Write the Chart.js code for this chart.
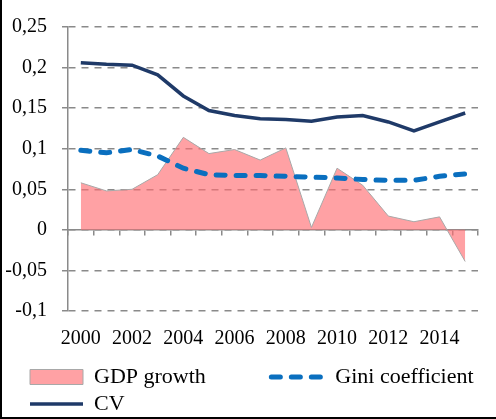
<!DOCTYPE html>
<html>
<head>
<meta charset="utf-8">
<script src="https://cdn.jsdelivr.net/npm/chart.js@4"></script>
<style>
  body { margin: 0; background: #fff; }
  #wrap { width: 496px; height: 419px; box-sizing: border-box; border-left: 2px solid #000; border-bottom: 2px solid #000; }
  canvas { display: block; }
</style>
</head>
<body>
<div id="wrap"><canvas id="chart" width="494" height="417"></canvas></div>
<script>
const years = ['2000', '2001', '2002', '2003', '2004', '2005', '2006', '2007',
               '2008', '2009', '2010', '2011', '2012', '2013', '2014', '2015'];
const gdpGrowth = [0.058, 0.048, 0.050, 0.068, 0.114, 0.094, 0.099, 0.086,
                   0.101, 0.003, 0.076, 0.055, 0.017, 0.010, 0.016, -0.039];
const gini = [0.098, 0.095, 0.099, 0.091, 0.076, 0.068, 0.067, 0.067,
              0.066, 0.065, 0.064, 0.062, 0.061, 0.061, 0.066, 0.069];
const cv = [0.206, 0.204, 0.203, 0.191, 0.165, 0.147, 0.141, 0.137,
            0.136, 0.134, 0.139, 0.141, 0.133, 0.122, 0.133, 0.144];
const yMin = -0.1, yMax = 0.25, yStep = 0.05;

const serif = "'Liberation Serif', 'Times New Roman', serif";
const gridGrey = '#8a8a8a';

// legend starts a bit in from the left edge, like the original
const legendInset = {
    id: 'legendInset',
    afterLayout(chart) {
        chart.legend.left = 23;
    }
};

new Chart(document.getElementById('chart'), {
    type: 'line',
    data: {
        labels: years,
        datasets: [
            {
                label: 'CV',
                data: cv,
                borderColor: '#1f3a68',
                backgroundColor: '#1f3a68',
                borderWidth: 3.5,
                pointRadius: 0,
                pointStyle: 'line',
                fill: false
            },
            {
                label: 'Gini coefficient',
                data: gini,
                borderColor: '#0a6fbf',
                backgroundColor: '#0a6fbf',
                borderWidth: 5,
                borderDash: [9, 11],
                borderCapStyle: 'round',
                pointRadius: 0,
                pointStyle: 'line',
                fill: false
            },
            {
                label: 'GDP growth',
                data: gdpGrowth,
                borderColor: '#a8a8a8',
                backgroundColor: 'rgba(255, 110, 115, 0.65)',
                borderWidth: 1,
                pointRadius: 0,
                pointStyle: 'rect',
                fill: 'origin'
            }
        ]
    },
    plugins: [legendInset],
    options: {
        responsive: false,
        animation: false,
        devicePixelRatio: 1,
        layout: { padding: { left: 0, right: 4, top: 22, bottom: -8 } },
        plugins: {
            tooltip: { enabled: false },
            legend: {
                position: 'bottom',
                align: 'start',
                reverse: true,
                labels: {
                    usePointStyle: true,
                    pointStyleWidth: 53,
                    boxHeight: 15,
                    padding: 5,
                    color: '#000',
                    font: { family: serif, size: 22 },
                    generateLabels: chart => {
                        const items = Chart.defaults.plugins.legend.labels.generateLabels(chart);
                        items.forEach(item => {
                            const ds = chart.data.datasets[item.datasetIndex];
                            item.lineDash = ds.borderDash || [];
                            item.lineCap = ds.borderCapStyle || 'butt';
                            item.lineWidth = ds.borderWidth;
                            item.strokeStyle = ds.borderColor;
                            item.fillStyle = ds.backgroundColor;
                            // first legend column is wider, like the original
                            if (item.text === 'GDP growth') item.text += ' '.repeat(11);
                        });
                        return items;
                    }
                }
            }
        },
        scales: {
            x: {
                type: 'category',
                offset: true,
                grid: { display: false, drawTicks: false },
                border: { display: false },
                ticks: {
                    autoSkip: false,
                    maxRotation: 0,
                    padding: 16,
                    color: '#000',
                    font: { family: serif, size: 20 },
                    callback: (v, i) => (i % 2 === 0 ? years[i] : '')
                },
                afterFit: s => { s.height = 50; }
            },
            x2: {
                type: 'category',
                axis: 'x',
                labels: years,
                offset: true,
                position: { y: 0 },
                grid: { offset: true, drawOnChartArea: false, drawTicks: true, tickLength: 5, color: gridGrey, lineWidth: 1.5 },
                border: { display: true, color: gridGrey, width: 1.5 },
                ticks: { display: false }
            },
            y: {
                min: yMin,
                max: yMax,
                ticks: {
                    stepSize: yStep,
                    padding: 15,
                    color: '#000',
                    font: { family: serif, size: 20 },
                    callback: v => String(Math.round(v * 100) / 100).replace('.', ',')
                },
                grid: { color: gridGrey, lineWidth: 1.5, tickLength: 6 },
                border: { display: true, color: gridGrey, width: 1.5, dash: [7, 6] },
                afterFit: s => { s.width = 66; }
            },
            y2: {
                position: 'right',
                grid: { display: false },
                border: { display: false },
                ticks: { display: false },
                afterFit: s => { s.width = 14; }
            }
        }
    }
});
</script>
</body>
</html>
